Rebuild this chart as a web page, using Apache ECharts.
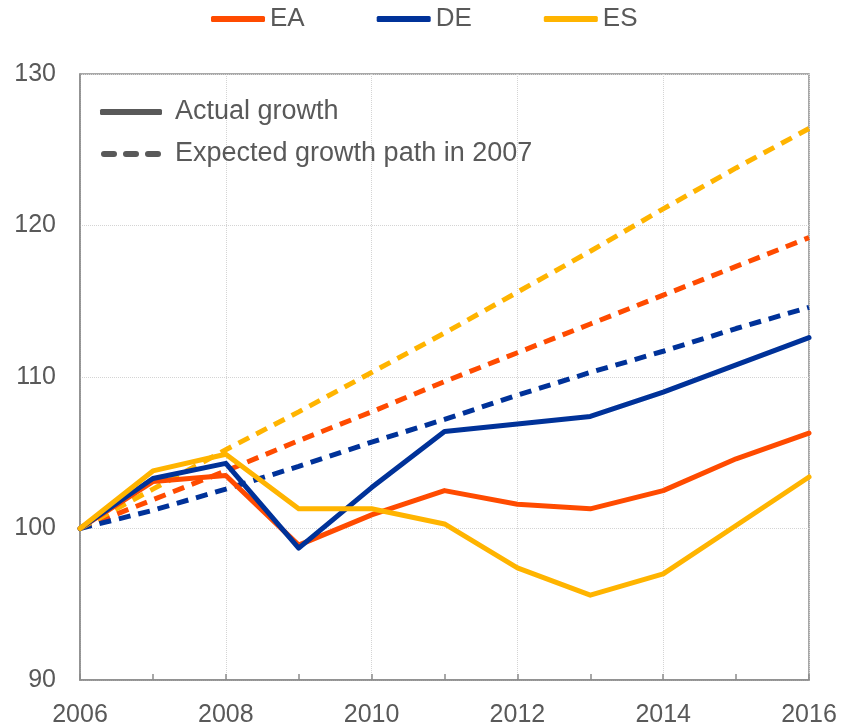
<!DOCTYPE html>
<html lang="en">
<head>
  <meta charset="UTF-8">
  <script src="https://cdn.jsdelivr.net/npm/echarts@6/dist/echarts.min.js"></script>
  <style>
    html, body { margin: 0; padding: 0; background: #fff; }
    #chart { width: 841px; height: 728px; }
  </style>
</head>
<body>
  <div id="chart"></div>
  <script>
    // years on the x axis
    const years = [2006, 2007, 2008, 2009, 2010, 2011, 2012, 2013, 2014, 2015, 2016];

    // actual real GDP, index 2006 = 100
    const eaActual = [100, 103.1, 103.5, 98.9, 100.9, 102.5, 101.6, 101.3, 102.5, 104.6, 106.3];
    const deActual = [100, 103.3, 104.3, 98.7, 102.7, 106.4, 106.9, 107.4, 109.0, 110.8, 112.6];
    const esActual = [100, 103.8, 104.9, 101.3, 101.3, 100.3, 97.4, 95.6, 97.0, 100.2, 103.4];

    // expected growth path as seen in 2007
    const eaExpected = [100, 101.9, 103.8, 105.8, 107.7, 109.7, 111.6, 113.5, 115.4, 117.3, 119.2];
    const deExpected = [100, 101.2, 102.6, 104.1, 105.7, 107.2, 108.8, 110.3, 111.7, 113.2, 114.6];
    const esExpected = [100, 102.6, 105.2, 107.7, 110.3, 112.9, 115.6, 118.3, 121.1, 123.8, 126.4];

    const countries = ['EA', 'DE', 'ES'];
    const colors = { EA: '#ff4b00', DE: '#003299', ES: '#ffb400' };
    const textColor = '#595959';
    const font = 'Liberation Sans, Arial, sans-serif';

    const pairs = arr => arr.map((v, i) => [years[i], v]);

    const series = [];
    // dashed paths first, so actual lines sit on top
    [['EA', eaExpected], ['DE', deExpected], ['ES', esExpected]].forEach(([c, d]) => {
      series.push({
        name: c + ' expected',
        type: 'line',
        data: pairs(d),
        symbol: 'none',
        color: colors[c],
        lineStyle: { width: 5, type: [12, 8], color: colors[c] },
        z: 2
      });
    });
    [['EA', eaActual], ['DE', deActual], ['ES', esActual]].forEach(([c, d]) => {
      series.push({
        name: c,
        type: 'line',
        data: pairs(d),
        symbol: 'none',
        color: colors[c],
        lineStyle: { width: 5, color: colors[c], cap: 'round', join: 'round' },
        z: 3
      });
    });
    // dummy series for the line-style key inside the plot
    series.push({ name: 'Actual growth', type: 'line', data: [], symbol: 'none', color: textColor });
    series.push({ name: 'Expected growth path in 2007', type: 'line', data: [], symbol: 'none', color: textColor });

    const chart = echarts.init(document.getElementById('chart'));
    chart.setOption({
      animation: false,
      textStyle: { fontFamily: font },
      legend: [
        {
          data: countries,
          left: 211,
          top: 6,
          padding: 0,
          itemWidth: 54,
          itemHeight: 6,
          itemGap: 72,
          icon: 'roundRect',
          textStyle: { fontSize: 26, color: textColor, fontFamily: font }
        },
        {
          data: [
            { name: 'Actual growth', icon: 'roundRect' },
            { name: 'Expected growth path in 2007',
              icon: 'path://M3,0h10a3,3 0 0 1 0,6h-10a3,3 0 0 1 0,-6z M25,0h10a3,3 0 0 1 0,6h-10a3,3 0 0 1 0,-6z M47,0h10a3,3 0 0 1 0,6h-10a3,3 0 0 1 0,-6z' }
          ],
          orient: 'vertical',
          left: 100,
          top: 98,
          padding: 0,
          itemWidth: 62,
          itemHeight: 6,
          itemGap: 14,
          textStyle: { fontSize: 27, lineHeight: 28, color: textColor, fontFamily: font, padding: [0, 0, 0, 8] }
        }
      ],
      grid: {
        left: 80, right: 32, top: 74, bottom: 46,
        show: true, borderColor: '#8c8c8c', borderWidth: 1.5
      },
      xAxis: {
        type: 'value',
        min: 2006,
        max: 2016,
        interval: 2,
        axisLine: { lineStyle: { color: '#8c8c8c', width: 1.5 } },
        axisTick: { show: true, inside: true, length: 6, lineStyle: { color: '#8c8c8c', width: 1.5 } },
        minorTick: { show: true, splitNumber: 2, length: 6, lineStyle: { color: '#8c8c8c', width: 1.5 } },
        splitLine: { show: true, lineStyle: { color: '#d4d4d4', type: 'dotted', width: 1 } },
        axisLabel: { fontSize: 25, color: textColor, margin: 23, formatter: v => String(v) }
      },
      yAxis: {
        type: 'value',
        min: 90,
        max: 130,
        interval: 10,
        axisLine: { show: true, lineStyle: { color: '#8c8c8c', width: 1.5 } },
        axisTick: { show: false },
        splitLine: { show: true, lineStyle: { color: '#d4d4d4', type: 'dotted', width: 1 } },
        axisLabel: { fontSize: 25, color: textColor, margin: 24 }
      },
      series: series
    });
  </script>
</body>
</html>
